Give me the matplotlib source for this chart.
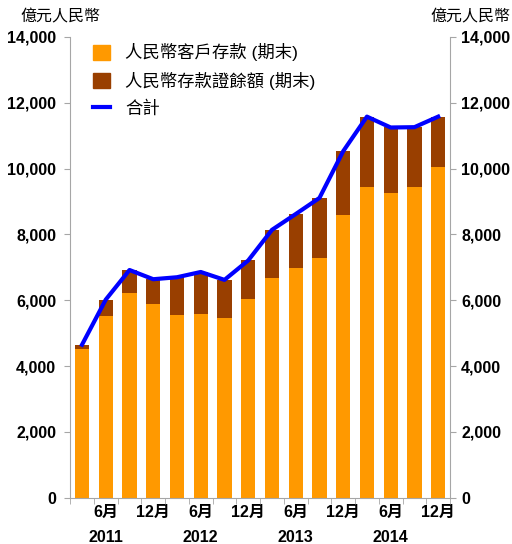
import numpy as np
import matplotlib
matplotlib.use('Agg')
import matplotlib.pyplot as plt
from matplotlib.lines import Line2D
from matplotlib.patches import Patch

plt.rcParams['font.family'] = ['Liberation Sans', 'Noto Sans CJK TC']

# quarterly, Mar 2011 - Dec 2014 (億元人民幣)
deposits = [4515, 5536, 6219, 5885, 5543, 5577, 5457, 6030,
            6681, 6980, 7300, 8605, 9449, 9259, 9445, 10036]
cds = [135, 484, 701, 755, 1157, 1283, 1163, 1180,
       1459, 1640, 1810, 1925, 2131, 1991, 1815, 1544]
month_labels = ['', '6月', '', '12月'] * 4
years = ['2011', '2012', '2013', '2014']

orange = '#FF9900'
brown = '#993F00'
blue = '#0000FF'
grey = '#A6A6A6'

x = np.arange(len(deposits))
total = np.array(deposits) + np.array(cds)

fig = plt.figure(figsize=(5.12, 5.44), dpi=100)
ax = fig.add_axes([0.137, 0.085, 0.742, 0.847])

ax.bar(x, deposits, width=0.6, color=orange, zorder=2)
ax.bar(x, cds, width=0.6, bottom=deposits, color=brown, zorder=2)
ax.plot(x, total, color=blue, lw=3, zorder=3)

ax.set_xlim(-0.5, len(x) - 0.5)
ax.set_ylim(0, 14000)
yt = np.arange(0, 14001, 2000)
ax.set_yticks(yt)
ax.set_yticklabels(['{:,}'.format(v) for v in yt], fontsize=11.5, fontweight='bold')

ax.set_xticks(np.arange(-0.5, len(x)), minor=True)
ax.set_xticks(x)
ax.set_xticklabels(month_labels, fontsize=11.5, fontweight='bold')
ax.tick_params(axis='x', which='major', length=0, pad=5)
ax.tick_params(axis='x', which='minor', length=4, color=grey, direction='out')
ax.tick_params(axis='y', length=4, color=grey, direction='out', pad=6)

for s in ['top', 'right']:
    ax.spines[s].set_visible(False)
for s in ['left', 'bottom']:
    ax.spines[s].set_color(grey)

ax2 = ax.twinx()
ax2.set_ylim(0, 14000)
ax2.set_yticks(yt)
ax2.set_yticklabels(['{:,}'.format(v) for v in yt], fontsize=11.5, fontweight='bold')
ax2.tick_params(axis='y', length=4, color=grey, direction='out', pad=4)
for s in ['top', 'left', 'bottom']:
    ax2.spines[s].set_visible(False)
ax2.spines['right'].set_color(grey)

for i, yr in enumerate(years):
    ax.text(1 + 4 * i, -0.07, yr, transform=ax.get_xaxis_transform(),
            ha='center', va='top', fontsize=11.5, fontweight='bold')

fig.text(0.04, 0.955, '億元人民幣', fontsize=11.5, ha='left', va='bottom')
fig.text(0.997, 0.955, '億元人民幣', fontsize=11.5, ha='right', va='bottom')

handles = [Patch(color=orange), Patch(color=brown),
           Line2D([0], [0], color=blue, lw=3)]
labels = ['人民幣客戶存款 (期末)', '人民幣存款證餘額 (期末)', '合計']
ax.legend(handles, labels, loc='upper left', bbox_to_anchor=(0.02, 1.02),
          frameon=False, fontsize=12.5, handlelength=0.95, handleheight=0.95,
          labelspacing=0.6, handletextpad=0.9)

fig.savefig('out.png', dpi=100)
